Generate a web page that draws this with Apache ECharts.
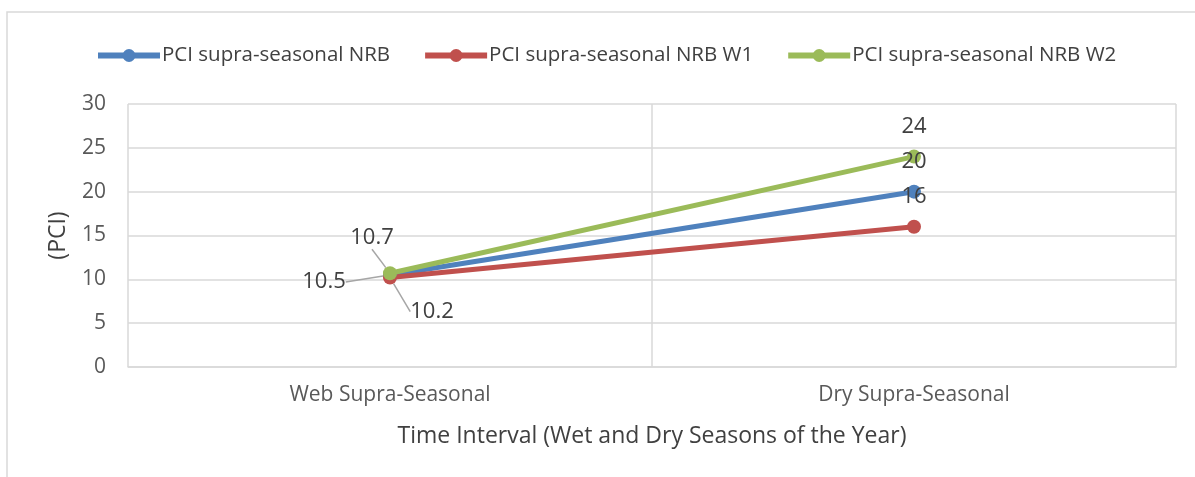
<!DOCTYPE html>
<html>
<head>
<meta charset="utf-8">
<script src="https://cdn.jsdelivr.net/npm/echarts@6/dist/echarts.min.js"></script>
<style>
html, body { margin: 0; padding: 0; background: #fff; }
#chart { width: 1195px; height: 477px; }
</style>
</head>
<body>
<div id="chart"></div>
<script>
var dom = document.getElementById("chart");
var myChart = echarts.init(dom);

// data
var categories = ['Web Supra-Seasonal', 'Dry Supra-Seasonal'];
var nrb = [10.5, 20];   // PCI supra-seasonal NRB
var nrbW1 = [10.2, 16]; // PCI supra-seasonal NRB W1
var nrbW2 = [10.7, 24]; // PCI supra-seasonal NRB W2
var yTicks = [0, 30, 5]; // min, max, step

var fontName = '"Open Sans", Lato, sans-serif';
var gridColor = '#d9d9d9';

// moved labels at the first category (they overlap otherwise)
var firstShift = {
	0: { dx: -66, dy: 37 },  // 10.5
	1: { dx: 42, dy: 64 },   // 10.2
	2: { dx: -18, dy: -5 }   // 10.7
};

function makeSeries(name, data, color) {
	// only the first point gets a guide line
	var items = data.map(function(v, i) {
		return { value: v, labelLine: { show: i === 0 } };
	});
	return {
		name: name,
		type: 'line',
		data: items,
		symbol: 'circle',
		symbolSize: 14,
		lineStyle: { width: 5, color: color },
		itemStyle: { color: color },
		label: {
			show: true,
			position: 'top',
			distance: 12,
			color: '#404040',
			fontSize: 22,
			fontFamily: fontName
		},
		labelLine: {
			show: false,
			lineStyle: { color: '#a6a6a6', width: 1.5 }
		},
		labelLayout: function(params) {
			if (params.dataIndex === 0) {
				return firstShift[params.seriesIndex];
			}
			return {};
		}
	};
}

option = {
	animation: false,
	graphic: [{
		type: 'rect',
		shape: { x: 7, y: 12, width: 1250, height: 520 },
		style: { fill: null, stroke: gridColor, lineWidth: 1.5 },
		z: -1
	}],
	legend: {
		top: 40,
		left: 90,
		itemWidth: 62,
		itemHeight: 16,
		itemGap: 32,
		lineStyle: { width: 6 },
		textStyle: { color: '#404040', fontSize: 20.5, fontFamily: fontName, padding: [0, 0, 0, -3] },
		data: ['PCI supra-seasonal NRB', 'PCI supra-seasonal NRB W1', 'PCI supra-seasonal NRB W2']
	},
	grid: {
		left: 128,
		right: 19,
		top: 104,
		bottom: 110
	},
	xAxis: {
		type: 'category',
		data: categories,
		boundaryGap: true,
		name: 'Time Interval (Wet and Dry Seasons of the Year)',
		nameLocation: 'middle',
		nameGap: 58,
		nameTextStyle: { color: '#404040', fontSize: 23, fontFamily: fontName },
		axisLine: { lineStyle: { color: gridColor, width: 1.5 } },
		axisTick: { show: false },
		axisLabel: { color: '#595959', fontSize: 21, fontFamily: fontName, margin: 18 },
		splitLine: { show: true, lineStyle: { color: gridColor, width: 1.5 } }
	},
	yAxis: {
		type: 'value',
		min: yTicks[0],
		max: yTicks[1],
		interval: yTicks[2],
		name: '(PCI)',
		nameLocation: 'middle',
		nameGap: 58,
		nameTextStyle: { color: '#404040', fontSize: 23, fontFamily: fontName },
		axisLine: { show: false },
		axisTick: { show: false },
		axisLabel: { color: '#595959', fontSize: 21, fontFamily: fontName, margin: 22 },
		splitLine: { lineStyle: { color: gridColor, width: 1.5 } }
	},
	series: [
		makeSeries('PCI supra-seasonal NRB', nrb, '#4f81bd'),
		makeSeries('PCI supra-seasonal NRB W1', nrbW1, '#c0504d'),
		makeSeries('PCI supra-seasonal NRB W2', nrbW2, '#9bbb59')
	]
};

if (option && typeof option === "object") {
	myChart.setOption(option, true);
}
</script>
</body>
</html>
